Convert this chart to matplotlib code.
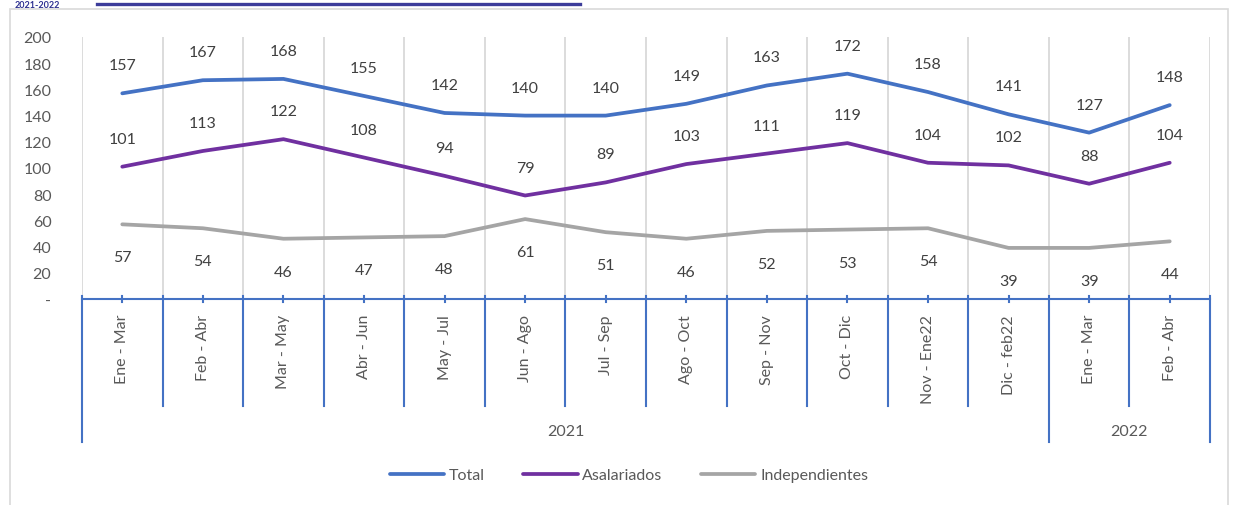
import matplotlib
matplotlib.use("Agg")
import matplotlib.pyplot as plt
from matplotlib.patches import Rectangle
from matplotlib.lines import Line2D
import matplotlib.transforms as mtransforms

categories = ["Ene - Mar", "Feb - Abr", "Mar - May", "Abr - Jun", "May - Jul", "Jun - Ago",
              "Jul - Sep", "Ago - Oct", "Sep - Nov", "Oct - Dic", "Nov - Ene22", "Dic - feb22",
              "Ene - Mar", "Feb - Abr"]
years = ["2021", "2022"]
year_counts = [12, 2]
total = [157, 167, 168, 155, 142, 140, 140, 149, 163, 172, 158, 141, 127, 148]
asalariados = [101, 113, 122, 108, 94, 79, 89, 103, 111, 119, 104, 102, 88, 104]
independientes = [57, 54, 46, 47, 48, 61, 51, 46, 52, 53, 54, 39, 39, 44]
yticks = [0, 20, 40, 60, 80, 100, 120, 140, 160, 180, 200]
ytick_labels = ["-", "20", "40", "60", "80", "100", "120", "140", "160", "180", "200"]

plt.rcParams['font.family'] = ['Lato', 'DejaVu Sans']
W, H = 1235, 506
fig = plt.figure(figsize=(W / 100, H / 100), dpi=100)
ax = fig.add_axes([82 / W, 1 - 300 / H, (1210 - 82) / W, (300 - 38) / H])

tc = '#595959'
blue = '#4472C4'
series = [("Total", total, '#4472C4', 28), ("Asalariados", asalariados, '#7030A0', 28),
          ("Independientes", independientes, '#A5A5A5', -33)]
x = list(range(len(categories)))
for name, vals, col, off in series:
    ax.plot(x, vals, color=col, lw=2.7, label=name, solid_capstyle='round', zorder=3)
    for xi, v in zip(x, vals):
        ax.annotate(str(v), (xi, v), xytext=(0, off * 0.72), textcoords='offset points',
                    ha='center', va='center', fontsize=11.5, color='#404040')

ax.set_xlim(-0.5, len(categories) - 0.5)
ax.set_ylim(0, 200)
ax.set_yticks(yticks)
ax.set_yticklabels(ytick_labels)
ax.tick_params(axis='y', length=0, pad=22, labelsize=11.5, labelcolor=tc)
ax.set_xticks([])
for s in ['top', 'right', 'left']:
    ax.spines[s].set_visible(False)
ax.spines['bottom'].set_color(blue)
ax.spines['bottom'].set_linewidth(1.5)

# gridlines at category boundaries
for i in range(len(categories) + 1):
    ax.axvline(i - 0.5, color='#D9D9D9', lw=1.3, zorder=0)

trans = mtransforms.blended_transform_factory(ax.transData, ax.transAxes)
px = 1 / (300 - 38)
year_bounds = [0]
for c in year_counts:
    year_bounds.append(year_bounds[-1] + c)
for i in range(len(categories) + 1):
    bottom = -143 * px if i in year_bounds else -107 * px
    ax.plot([i - 0.5, i - 0.5], [3 * px, bottom], color=blue, lw=1.5, transform=trans,
            clip_on=False, zorder=4)
for i, c in enumerate(categories):
    ax.plot([i, i], [3 * px, -3 * px], color=blue, lw=1.5, transform=trans, clip_on=False)
    ax.text(i, -15 * px, c, rotation=90, ha='center', va='top', fontsize=11.5, color=tc,
            transform=trans)
for y, a, b in zip(years, year_bounds[:-1], year_bounds[1:]):
    ax.text((a + b - 1) / 2, -132 * px, y, ha='center', va='center', fontsize=11.5,
            color=tc, transform=trans)

leg = fig.legend(loc='center', bbox_to_anchor=(629 / W, 1 - 476 / H), ncol=3, frameon=False,
                 fontsize=11.5, handlelength=3.4, handletextpad=0.3, columnspacing=2.4,
                 labelcolor=tc)

# chart frame and title strip at top
fig.add_artist(Rectangle((10 / W, -0.1), (1228 - 10) / W, 1.1 - 10 / H, transform=fig.transFigure,
                         fill=False, edgecolor='#D9D9D9', lw=1.2))
fig.text(15 / W, 1 - 1 / H, "2021-2022", fontsize=6.5, fontweight='bold',
         color='#2E3192', ha='left', va='top')
fig.add_artist(Line2D([97 / W, 580 / W], [1 - 5 / H, 1 - 5 / H], transform=fig.transFigure,
                      color='#3C3C9A', lw=2.4))

fig.savefig("out.png", dpi=100)
